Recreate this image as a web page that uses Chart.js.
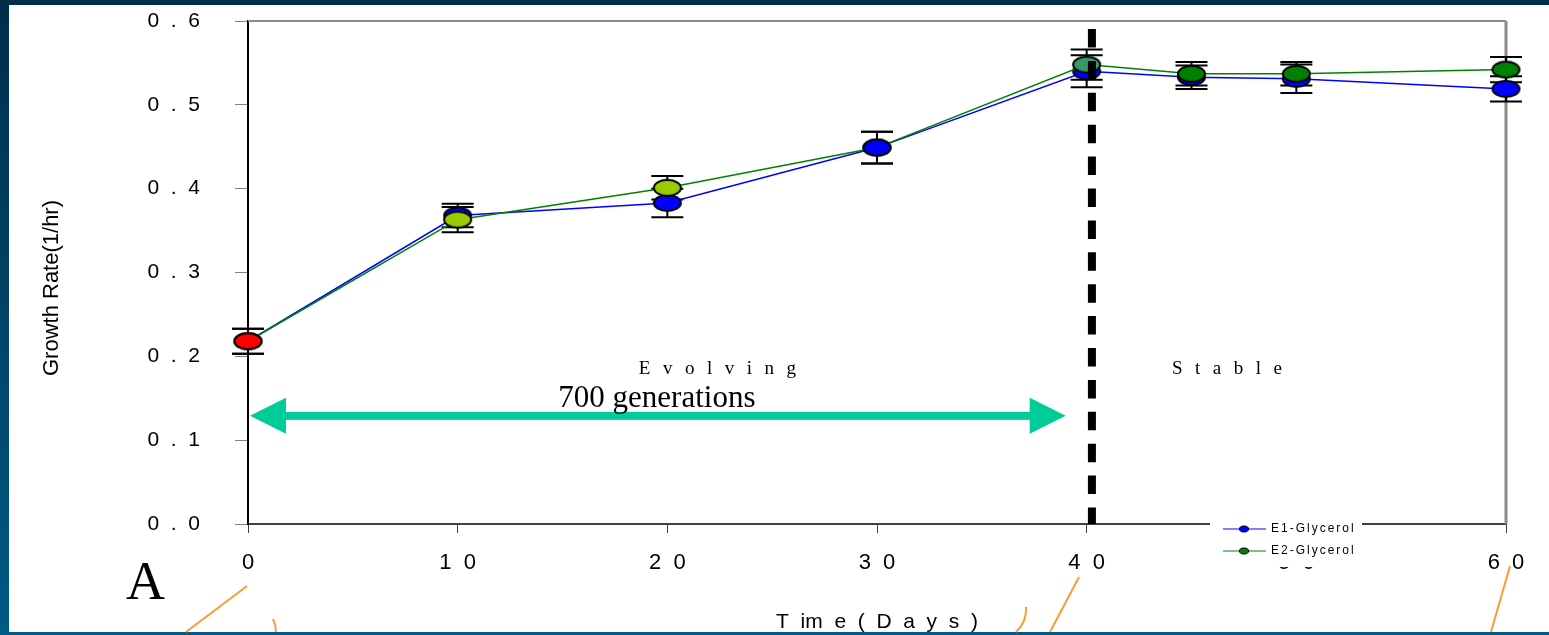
<!DOCTYPE html>
<html>
<head>
<meta charset="utf-8">
<title>Growth rate</title>
<script src="https://cdn.jsdelivr.net/npm/chart.js@4.4.0/dist/chart.umd.min.js"></script>
<style>
  html, body { margin: 0; padding: 0; }
  body {
    width: 1549px; height: 635px; overflow: hidden; position: relative;
    background: linear-gradient(180deg, #002e4c 0%, #005a85 100%);
  }
  #panel { position: absolute; left: 9px; top: 5px; width: 1540px; height: 627px; background: #fff; }
  #wrap { position: absolute; left: 0; top: 0; width: 1549px; height: 635px; }
</style>
</head>
<body>
<div id="panel"></div>
<div id="wrap"><canvas id="growthChart"></canvas></div>
<script>
// sampling days
var days = [0, 10, 20, 30, 40, 45, 50, 60];

// growth rates (1/hr) and their errors
var e1Rate = [0.218, 0.368, 0.383, 0.449, 0.540, 0.533, 0.531, 0.519];
var e1Err  = [0.015, 0.014, 0.017, 0.019, 0.019, 0.014, 0.017, 0.015];
var e2Rate = [0.218, 0.363, 0.401, 0.449, 0.548, 0.537, 0.537, 0.542];
var e2Err  = [0.015, 0.015, 0.014, 0.019, 0.018, 0.014, 0.014, 0.015];

// marker fills per point
var e1Fill = ['#ff0000', '#0000ff', '#0000ff', '#0000ff', '#0000ff', '#0000ff', '#0000ff', '#0000ff'];
var e2Fill = ['#ff0000', '#99cc00', '#99cc00', '#0000ff', '#339966', '#008000', '#008000', '#008000'];

var seriesNames = ['E1-Glycerol', 'E2-Glycerol'];
var phaseLabels = ['Evolving', 'Stable'];
var stableFromDay = 40.25;

var SANS = '"Liberation Sans", Arial, sans-serif';
var SERIF = '"Liberation Serif", "Times New Roman", serif';

function spaced(str) {
  return String(str).split('').join('  ');
}

// flat oval marker drawn on a small canvas
function ellipseMarker(fill, w, h) {
  var c = document.createElement('canvas');
  c.width = w + 4;
  c.height = h + 4;
  var g = c.getContext('2d');
  g.beginPath();
  g.ellipse(c.width / 2, c.height / 2, w / 2, h / 2, 0, 0, Math.PI * 2);
  g.fillStyle = fill;
  g.fill();
  g.lineWidth = 2;
  g.strokeStyle = '#000';
  g.stroke();
  return c;
}

function toPoints(vals) {
  return days.map(function (d, i) { return { x: d, y: vals[i] }; });
}

function drawErrorBars(chart) {
  var ctx = chart.ctx, x = chart.scales.x, y = chart.scales.y;
  ctx.save();
  ctx.strokeStyle = '#000';
  ctx.lineWidth = 2;
  [[e1Rate, e1Err], [e2Rate, e2Err]].forEach(function (s) {
    days.forEach(function (d, i) {
      var px = x.getPixelForValue(d);
      var top = y.getPixelForValue(s[0][i] + s[1][i]);
      var bot = y.getPixelForValue(s[0][i] - s[1][i]);
      ctx.beginPath();
      ctx.moveTo(px, top); ctx.lineTo(px, bot);
      ctx.moveTo(px - 16, top); ctx.lineTo(px + 16, top);
      ctx.moveTo(px - 16, bot); ctx.lineTo(px + 16, bot);
      ctx.stroke();
    });
  });
  ctx.restore();
}

function drawArrow(ctx, x0, x1, yc) {
  var head = 36, half = 18, shaft = 4;
  ctx.save();
  ctx.fillStyle = '#00cc99';
  ctx.fillRect(x0 + head - 1, yc - shaft, (x1 - head) - (x0 + head) + 2, shaft * 2);
  ctx.beginPath();
  ctx.moveTo(x0, yc); ctx.lineTo(x0 + head, yc - half); ctx.lineTo(x0 + head, yc + half);
  ctx.closePath();
  ctx.fill();
  ctx.beginPath();
  ctx.moveTo(x1, yc); ctx.lineTo(x1 - head, yc - half); ctx.lineTo(x1 - head, yc + half);
  ctx.closePath();
  ctx.fill();
  ctx.restore();
}

function drawLegend(ctx) {
  var bx = 1210, by = 514;
  ctx.save();
  ctx.fillStyle = '#fff';
  ctx.fillRect(bx, by, 152, 53);
  var lines = [
    { label: seriesNames[0], line: '#8080ff', width: 2, dot: '#0000ff', y: 529 },
    { label: seriesNames[1], line: '#008000', width: 1, dot: '#008000', y: 551 }
  ];
  lines.forEach(function (it) {
    ctx.strokeStyle = it.line;
    ctx.lineWidth = it.width;
    ctx.beginPath();
    ctx.moveTo(1223, it.y); ctx.lineTo(1266, it.y);
    ctx.stroke();
    ctx.beginPath();
    ctx.ellipse(1244, it.y, 4.5, 3, 0, 0, Math.PI * 2);
    ctx.fillStyle = it.dot;
    ctx.fill();
    ctx.lineWidth = 1;
    ctx.strokeStyle = '#000';
    ctx.stroke();
    ctx.fillStyle = '#000';
    ctx.font = '12px ' + SANS;
    ctx.letterSpacing = '2px';
    ctx.textAlign = 'left';
    ctx.textBaseline = 'middle';
    ctx.fillText(it.label, 1271, it.y);
  });
  ctx.restore();
}

function drawPointers(ctx) {
  ctx.save();
  ctx.strokeStyle = '#ff9933';
  ctx.lineWidth = 2;
  ctx.beginPath();
  ctx.moveTo(247, 586); ctx.lineTo(186, 632);
  ctx.moveTo(273, 619); ctx.quadraticCurveTo(276, 625, 276, 632);
  ctx.moveTo(1026, 607); ctx.quadraticCurveTo(1027, 622, 1016, 632);
  ctx.moveTo(1079, 577); ctx.lineTo(1050, 632);
  ctx.moveTo(1510, 566); ctx.lineTo(1491, 632);
  ctx.stroke();
  ctx.restore();
}

var slideMarks = {
  id: 'slideMarks',
  beforeDatasetsDraw: function (chart) {
    var ctx = chart.ctx, a = chart.chartArea;
    // grey frame on top and right
    ctx.save();
    ctx.strokeStyle = '#8c8c8c';
    ctx.lineWidth = 2;
    ctx.beginPath();
    ctx.moveTo(a.left, a.top); ctx.lineTo(a.right, a.top);
    ctx.stroke();
    ctx.lineWidth = 3;
    ctx.beginPath();
    ctx.moveTo(a.right, a.top); ctx.lineTo(a.right, a.bottom);
    ctx.stroke();
    ctx.restore();
    drawErrorBars(chart);
  },
  afterDraw: function (chart) {
    var ctx = chart.ctx, x = chart.scales.x, y = chart.scales.y, a = chart.chartArea;

    // boundary between evolving and stable phase
    var bx = x.getPixelForValue(stableFromDay);
    ctx.save();
    ctx.strokeStyle = '#000';
    ctx.lineWidth = 8;
    ctx.setLineDash([18.5, 13.4]);
    ctx.beginPath();
    ctx.moveTo(bx, a.top + 8); ctx.lineTo(bx, a.bottom);
    ctx.stroke();
    ctx.restore();

    drawArrow(ctx, x.getPixelForValue(0) + 2, x.getPixelForValue(39), y.getPixelForValue(0.129));

    ctx.save();
    ctx.fillStyle = '#000';
    ctx.textBaseline = 'alphabetic';
    ctx.textAlign = 'center';
    ctx.font = '19px ' + SERIF;
    ctx.letterSpacing = '12.5px';
    ctx.fillText(phaseLabels[0], x.getPixelForValue(22.4) + 6, y.getPixelForValue(0.179));
    ctx.fillText(phaseLabels[1], x.getPixelForValue(46.7) + 6, y.getPixelForValue(0.179));
    ctx.letterSpacing = '0px';
    ctx.textAlign = 'left';
    ctx.font = '31px ' + SERIF;
    ctx.fillText('700 generations', x.getPixelForValue(14.8), y.getPixelForValue(0.1396));
    ctx.font = '54px ' + SERIF;
    ctx.fillText('A', 126, 599);

    // y axis title
    ctx.translate(52, 288);
    ctx.rotate(-Math.PI / 2);
    ctx.textAlign = 'center';
    ctx.textBaseline = 'middle';
    ctx.font = '22px ' + SANS;
    ctx.fillText('Growth Rate(1/hr)', 0, 0);
    ctx.restore();

    drawLegend(ctx);
    drawPointers(ctx);
  }
};

var ctx = document.getElementById('growthChart');

var growthChart = new Chart(ctx, {
  type: 'line',
  data: {
    datasets: [
      {
        label: seriesNames[0],
        data: toPoints(e1Rate),
        borderColor: '#0000ff',
        borderWidth: 1.5,
        pointStyle: e1Fill.map(function (c) { return ellipseMarker(c, 27, 16); }),
        pointRadius: 9,
        tension: 0,
        clip: false,
        order: 2
      },
      {
        label: seriesNames[1],
        data: toPoints(e2Rate),
        borderColor: '#008000',
        borderWidth: 1.5,
        pointStyle: e2Fill.map(function (c) { return ellipseMarker(c, 27, 16); }),
        pointRadius: 9,
        tension: 0,
        clip: false,
        order: 1
      }
    ]
  },
  options: {
    responsive: true,
    maintainAspectRatio: false,
    animation: false,
    layout: { padding: { left: 0, top: 21, right: 43, bottom: 0 } },
    plugins: {
      legend: { display: false },
      tooltip: { enabled: false }
    },
    scales: {
      x: {
        type: 'linear',
        min: 0,
        max: 60,
        afterFit: function (s) { s.height = 111; },
        ticks: {
          stepSize: 10,
          padding: 17,
          maxRotation: 0,
          color: '#000',
          font: { family: SANS, size: 22 },
          callback: function (v) { return spaced(v); }
        },
        grid: { drawOnChartArea: false, tickLength: 9, tickColor: '#404040', tickWidth: 1 },
        border: { color: '#404040', width: 2 },
        title: {
          display: true,
          text: 'T  im  e  (  D  a  y  s  )',
          color: '#000',
          font: { family: SANS, size: 21 },
          padding: { top: 0, bottom: 0 }
        }
      },
      y: {
        min: 0,
        max: 0.6,
        afterFit: function (s) {
          s.width = 248;
          // the wide label gap should not push the plot down
          s.paddingTop = 10;
          s.paddingBottom = 10;
        },
        ticks: {
          stepSize: 0.1,
          padding: 35,
          color: '#000',
          font: { family: SANS, size: 21 },
          callback: function (v) { return spaced(v.toFixed(1)); }
        },
        grid: { drawOnChartArea: false, tickLength: 13, tickColor: '#808080', tickWidth: 1 },
        border: { color: '#000', width: 2 }
      }
    }
  },
  plugins: [slideMarks]
});
</script>
</body>
</html>
